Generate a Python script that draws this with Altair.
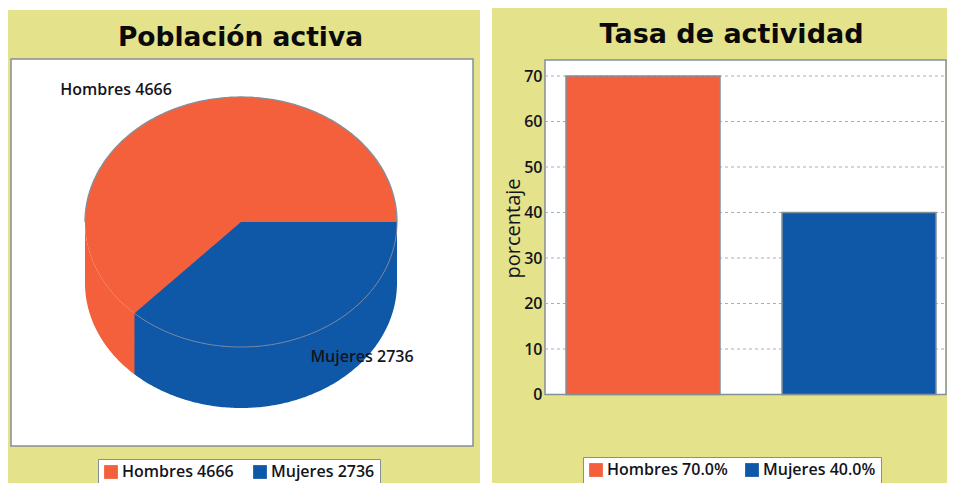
import numpy as np
import pandas as pd
import altair as alt

# ---- values ----
pie_names = ["Hombres", "Mujeres"]
pie_values = [4666, 2736]
bar_names = ["Hombres", "Mujeres"]
bar_values = [70.0, 40.0]
y_ticks = [0, 10, 20, 30, 40, 50, 60, 70]

RED, BLUE = "#f45f3c", "#0f58a8"
KHAKI = "#e4e28b"
EDGE = "#83909a"
INK = "#14141c"
FONT = "DejaVu Sans"
LFONT = "Open Sans"
W1, W2, H = 472, 455, 475

pie_labels = [f"{n} {v}" for n, v in zip(pie_names, pie_values)]
bar_labels = [f"{n} {v:.1f}%" for n, v in zip(bar_names, bar_values)]

# ---- pie geometry derived from the values (unit ellipse, y downwards) ----
DEPTH = 61 / 125
theta = 2 * np.pi * pie_values[1] / sum(pie_values)
cut_x, cut_y = np.cos(theta), np.sin(theta)
xs = np.unique(np.concatenate([np.cos(np.linspace(0, np.pi, 241)), [cut_x, 0.0]]))
arc = np.sqrt(np.clip(1 - xs ** 2, 0, None))

top = pd.DataFrame({"x": xs, "y": -arc, "y2": arc, "serie": pie_labels[0]})
m = xs >= cut_x
wedge = pd.DataFrame({
    "x": xs[m],
    "y": np.where(xs[m] < 0, xs[m] * cut_y / cut_x, 0.0),
    "y2": arc[m],
    "serie": pie_labels[1],
})
side = pd.DataFrame({"x": xs, "y": arc, "y2": arc + DEPTH})
side_r = side[xs <= cut_x + 0.01].assign(serie=pie_labels[0])
side_b = side[xs >= cut_x].assign(serie=pie_labels[1])
upper = pd.DataFrame({"x": xs, "y": -arc})
front = pd.DataFrame({"x": xs[m], "y": arc[m]})

px = alt.Scale(domain=[-1, 1], range=[77, 389])
py = alt.Scale(domain=[-1, 1], range=[89, 339])
X = alt.X("x:Q", scale=px, axis=None)
Y = alt.Y("y:Q", scale=py, axis=None)
Y2 = alt.Y2("y2:Q")


def legend(x, y, col_pad):
    return alt.Legend(
        title=None, orient="none", legendX=x, legendY=y, direction="horizontal",
        columns=2, fillColor="white", strokeColor=EDGE, padding=5,
        symbolType="square", symbolSize=190, symbolStrokeWidth=0, symbolOpacity=1,
        labelFont=LFONT, labelFontSize=16, labelColor=INK, labelFontWeight=600,
        columnPadding=col_pad, labelOffset=3,
    )


def panel_bg(top_px, w):
    return alt.Chart(pd.DataFrame({"a": [0]})).mark_rect(fill=KHAKI).encode(
        x=alt.value(0), x2=alt.value(w), y=alt.value(top_px), y2=alt.value(H))


def title(text, dx, size, offset):
    return alt.TitleParams(text, font=FONT, fontSize=size, fontWeight="bold", color="#0a0a0a",
                           anchor="middle", offset=offset, dx=dx)


def txt(text, x, y):
    return alt.Chart(pd.DataFrame({"t": [text]})).mark_text(
        font=LFONT, fontSize=16, fontWeight=600, color=INK, align="center", baseline="middle"
    ).encode(text="t:N", x=alt.value(x), y=alt.value(y))


color1 = alt.Color("serie:N", scale=alt.Scale(domain=pie_labels, range=[RED, BLUE]),
                   legend=legend(90, 451, 18))

box1 = alt.Chart(pd.DataFrame({"a": [0]})).mark_rect(fill="white", stroke=EDGE, strokeWidth=1.5).encode(
    x=alt.value(3), x2=alt.value(465), y=alt.value(51), y2=alt.value(438))

pie = alt.layer(
    panel_bg(2, W1),
    box1,
    alt.Chart(side_r).mark_area().encode(x=X, y=Y, y2=Y2, color=color1),
    alt.Chart(side_b).mark_area().encode(x=X, y=Y, y2=Y2, color=color1),
    alt.Chart(top).mark_area().encode(x=X, y=Y, y2=Y2, color=color1),
    alt.Chart(wedge).mark_area().encode(x=X, y=Y, y2=Y2, color=color1),
    alt.Chart(upper).mark_line(color=EDGE, strokeWidth=1.3).encode(x=X, y=Y, order="x:Q"),
    alt.Chart(front).mark_line(color="#6f87a8", strokeWidth=1).encode(x=X, y=Y, order="x:Q"),
    txt(f"{pie_names[0]} {pie_values[0]}", 108, 82),
    txt(f"{pie_names[1]} {pie_values[1]}", 354, 349),
).properties(width=W1, height=H, title=title("Población activa", -3.5, 26.5, -43))

# ---- bars ----
bars_df = pd.DataFrame({"serie": bar_labels, "valor": bar_values})
ticks_df = pd.DataFrame({"valor": y_ticks})
yb = alt.Scale(domain=[0, 70], range=[386.5, 68], nice=False, zero=True)
xb = alt.Scale(domain=bar_labels, range=[55, 463], paddingInner=62 / 216, paddingOuter=19 / 216)

color2 = alt.Color("serie:N", scale=alt.Scale(domain=bar_labels, range=[RED, BLUE]),
                   legend=legend(91, 449, 16))

y_axis = alt.Axis(
    title="porcentaje", values=y_ticks, offset=-53, domain=False, ticks=False, grid=False,
    zindex=1, titleY=220,
    labelFont=LFONT, labelFontSize=16, labelFontWeight=600, labelColor=INK, labelPadding=3,
    titleFont=LFONT, titleFontSize=20, titleFontWeight="normal", titleColor=INK, titlePadding=0,
)

box2 = alt.Chart(pd.DataFrame({"a": [0]})).mark_rect(fill="white", stroke=EDGE, strokeWidth=1.5).encode(
    x=alt.value(53), x2=alt.value(W2 - 1), y=alt.value(52), y2=alt.value(386.5))

grid = alt.Chart(ticks_df[ticks_df.valor > 0]).mark_rule(color="#a9adb8", strokeDash=[3, 3], strokeWidth=1).encode(
    y=alt.Y("valor:Q", scale=yb, axis=y_axis), x=alt.value(53), x2=alt.value(W2 - 1))

bars = alt.Chart(bars_df).mark_bar(stroke=EDGE, strokeWidth=1.5).encode(
    x=alt.X("serie:N", scale=xb, axis=None, sort=bar_labels),
    y=alt.Y("valor:Q", scale=yb, axis=y_axis),
    color=color2,
)

bar_panel = alt.layer(panel_bg(0, W2), box2, grid, bars).properties(
    width=W2, height=H, title=title("Tasa de actividad", 12, 27, -41))

chart = alt.hconcat(pie, bar_panel, spacing=12).resolve_scale(color="independent").properties(
    padding=0, background="white").configure_view(stroke=None)

chart.save("out.html", embed_options={"renderer": "svg", "actions": False})
